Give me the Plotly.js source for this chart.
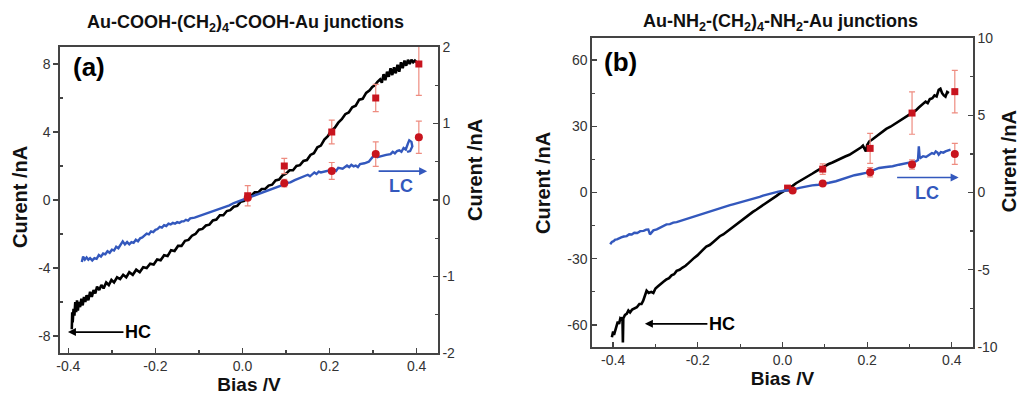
<!DOCTYPE html>
<html><head><meta charset="utf-8">
<script src="https://cdn.plot.ly/plotly-3.0.1.min.js"></script>
<style>html,body{margin:0;padding:0;background:#fff}#chart{width:1021px;height:396px}</style>
</head><body><div id="chart"></div>
<script>
// ---------- Panel (a): Au-COOH-(CH2)4-COOH-Au ----------
const aHcV = [-0.392,-0.391,-0.390,-0.388,-0.386,-0.384,-0.382,-0.380,-0.378,-0.376,-0.373,-0.370,-0.367,-0.364,-0.361,-0.358,-0.354,-0.350,-0.346,-0.342,-0.338,-0.334,-0.329,-0.324,-0.319,-0.313,-0.307,-0.301,-0.295,-0.288,-0.281,-0.274,-0.267,-0.260,-0.252,-0.244,-0.236,-0.228,-0.220,-0.212,-0.204,-0.196,-0.188,-0.180,-0.172,-0.164,-0.156,-0.148,-0.140,-0.132,-0.124,-0.116,-0.108,-0.100,-0.092,-0.084,-0.076,-0.068,-0.060,-0.052,-0.044,-0.036,-0.028,-0.020,-0.012,-0.004,0.004,0.012,0.020,0.028,0.036,0.044,0.052,0.060,0.068,0.076,0.084,0.092,0.100,0.108,0.116,0.124,0.132,0.140,0.148,0.156,0.164,0.172,0.180,0.188,0.196,0.204,0.212,0.220,0.228,0.236,0.244,0.252,0.260,0.268,0.276,0.284,0.292,0.298,0.304,0.310,0.316,0.320,0.324,0.328,0.332,0.336,0.340,0.344,0.348,0.352,0.356,0.360,0.364,0.368,0.372,0.376,0.380,0.384,0.388,0.392,0.396,0.400];
const aHcI = [-7.6,-6.6,-7.2,-6.4,-6.8,-6.0,-6.6,-5.9,-6.5,-6.0,-6.3,-5.8,-6.2,-5.7,-6.0,-5.6,-5.9,-5.4,-5.7,-5.3,-5.5,-5.1,-5.3,-5.0,-5.2,-4.85,-5.0,-4.7,-4.85,-4.55,-4.65,-4.4,-4.55,-4.25,-4.4,-4.1,-4.25,-3.95,-4.0,-3.75,-3.8,-3.5,-3.55,-3.25,-3.3,-2.95,-3.0,-2.7,-2.7,-2.4,-2.35,-2.1,-2.0,-1.75,-1.7,-1.5,-1.45,-1.2,-1.15,-0.9,-0.9,-0.65,-0.6,-0.4,-0.35,-0.1,-0.05,0.2,0.25,0.45,0.45,0.65,0.65,0.85,0.9,1.15,1.2,1.45,1.55,1.75,1.75,2.0,2.05,2.3,2.35,2.65,2.75,3.1,3.2,3.55,3.75,4.1,4.25,4.55,4.75,5.05,5.15,5.45,5.55,5.9,5.95,6.3,6.45,6.65,6.75,6.95,7.1,6.9,7.4,7.05,7.55,7.25,7.75,7.35,7.8,7.45,7.95,7.55,8.1,7.75,8.2,7.9,8.25,8.0,8.25,8.1,8.2,8.1];
const aLcV = [-0.369,-0.366,-0.362,-0.358,-0.354,-0.350,-0.345,-0.340,-0.335,-0.330,-0.325,-0.320,-0.315,-0.310,-0.305,-0.300,-0.295,-0.290,-0.285,-0.280,-0.275,-0.270,-0.265,-0.260,-0.255,-0.250,-0.245,-0.240,-0.235,-0.230,-0.225,-0.220,-0.215,-0.210,-0.205,-0.200,-0.195,-0.190,-0.185,-0.180,-0.175,-0.170,-0.165,-0.160,-0.155,-0.150,-0.145,-0.140,-0.135,-0.130,-0.125,-0.120,-0.110,-0.100,-0.090,-0.080,-0.070,-0.060,-0.050,-0.040,-0.030,-0.020,-0.010,0.000,0.010,0.020,0.030,0.040,0.050,0.060,0.070,0.080,0.090,0.100,0.110,0.120,0.130,0.140,0.150,0.155,0.160,0.165,0.170,0.175,0.180,0.190,0.200,0.210,0.215,0.220,0.230,0.240,0.245,0.250,0.255,0.260,0.265,0.270,0.280,0.290,0.300,0.305,0.310,0.320,0.330,0.340,0.345,0.350,0.355,0.360,0.365,0.370,0.375,0.380,0.383,0.388,0.390,0.385,0.378];
const aLcI = [-0.81,-0.74,-0.78,-0.75,-0.78,-0.76,-0.79,-0.76,-0.77,-0.72,-0.74,-0.70,-0.71,-0.67,-0.69,-0.65,-0.66,-0.61,-0.63,-0.58,-0.54,-0.58,-0.55,-0.58,-0.55,-0.56,-0.52,-0.54,-0.50,-0.49,-0.46,-0.44,-0.45,-0.41,-0.42,-0.39,-0.38,-0.35,-0.36,-0.33,-0.34,-0.31,-0.32,-0.30,-0.31,-0.29,-0.30,-0.28,-0.28,-0.26,-0.27,-0.24,-0.23,-0.21,-0.20,-0.18,-0.16,-0.14,-0.11,-0.09,-0.07,-0.04,-0.02,0.00,0.02,0.04,0.06,0.09,0.11,0.13,0.15,0.17,0.19,0.22,0.23,0.26,0.28,0.30,0.33,0.31,0.34,0.36,0.34,0.37,0.36,0.37,0.38,0.40,0.38,0.42,0.41,0.45,0.43,0.46,0.44,0.45,0.43,0.47,0.48,0.50,0.57,0.60,0.56,0.58,0.59,0.60,0.63,0.61,0.64,0.65,0.63,0.68,0.66,0.74,0.78,0.76,0.70,0.64,0.63];
const aSqV = [0.012,0.096,0.205,0.306,0.405];
const aSqI = [0.25,2.0,4.0,6.0,8.0];
const aSqErr = [0.6,0.45,0.7,0.8,1.85];
const aCiV = [0.012,0.096,0.205,0.306,0.405];
const aCiI = [0.03,0.22,0.38,0.60,0.82];
const aCiErr = [0.0,0.05,0.11,0.16,0.21];

// ---------- Panel (b): Au-NH2-(CH2)4-NH2-Au ----------
const bHcV = [-0.403,-0.400,-0.398,-0.395,-0.392,-0.389,-0.386,-0.383,-0.380,-0.378,-0.377,-0.376,-0.372,-0.368,-0.364,-0.360,-0.355,-0.350,-0.344,-0.338,-0.333,-0.329,-0.325,-0.321,-0.316,-0.310,-0.305,-0.300,-0.294,-0.289,-0.282,-0.275,-0.268,-0.262,-0.256,-0.250,-0.243,-0.236,-0.229,-0.222,-0.215,-0.208,-0.201,-0.195,-0.188,-0.180,-0.172,-0.164,-0.156,-0.148,-0.140,-0.132,-0.124,-0.117,-0.108,-0.100,-0.092,-0.085,-0.078,-0.070,-0.062,-0.054,-0.046,-0.038,-0.030,-0.022,-0.014,-0.007,0.000,0.008,0.016,0.024,0.032,0.040,0.050,0.060,0.070,0.079,0.088,0.098,0.108,0.118,0.128,0.138,0.148,0.158,0.168,0.178,0.186,0.190,0.194,0.197,0.200,0.205,0.212,0.220,0.228,0.236,0.245,0.255,0.265,0.275,0.285,0.295,0.307,0.315,0.322,0.330,0.338,0.343,0.348,0.354,0.359,0.364,0.369,0.373,0.377,0.381,0.385,0.389,0.393];
const bHcI = [-65.6,-63.0,-64.5,-62.0,-60.5,-58.5,-59.5,-57.0,-57.5,-56.5,-68.0,-57.0,-55.5,-55.0,-53.5,-54.3,-53.0,-52.5,-52.0,-50.5,-50.5,-49.0,-46.5,-44.5,-45.5,-45.0,-45.5,-43.5,-42.5,-41.5,-40.5,-39.5,-38.8,-37.5,-37.0,-35.5,-35.0,-34.0,-33.2,-32.0,-30.5,-29.5,-28.5,-27.2,-26.0,-24.5,-23.8,-22.5,-21.2,-19.8,-19.0,-17.8,-16.8,-15.9,-14.5,-13.2,-12.0,-11.0,-9.9,-8.8,-7.8,-6.8,-5.6,-4.7,-3.6,-2.6,-1.5,-0.5,0.3,1.0,2.1,3.0,4.2,5.1,6.2,7.0,8.5,9.6,10.6,11.8,12.8,13.6,14.6,15.5,16.3,17.1,18.3,19.2,20.5,21.2,20.0,18.6,21.5,23.1,24.0,25.2,26.5,27.6,28.8,29.8,31.0,32.2,33.4,34.5,35.9,37.2,38.5,39.8,41.2,40.5,42.3,42.7,44.0,43.5,46.5,47.0,45.0,44.0,43.4,45.5,45.0];
const bLcV = [-0.407,-0.403,-0.399,-0.395,-0.391,-0.386,-0.381,-0.375,-0.368,-0.362,-0.356,-0.350,-0.343,-0.336,-0.328,-0.322,-0.317,-0.313,-0.309,-0.305,-0.297,-0.290,-0.282,-0.274,-0.266,-0.258,-0.250,-0.242,-0.234,-0.226,-0.218,-0.211,-0.203,-0.195,-0.188,-0.180,-0.172,-0.164,-0.156,-0.148,-0.140,-0.132,-0.124,-0.117,-0.108,-0.100,-0.092,-0.085,-0.077,-0.069,-0.062,-0.054,-0.046,-0.038,-0.030,-0.023,-0.010,0.000,0.012,0.024,0.040,0.056,0.070,0.085,0.095,0.110,0.126,0.142,0.158,0.170,0.185,0.197,0.212,0.228,0.245,0.260,0.275,0.290,0.299,0.308,0.315,0.320,0.322,0.324,0.326,0.332,0.339,0.346,0.353,0.358,0.362,0.366,0.369,0.374,0.380,0.385,0.391,0.397];
const bLcI = [-3.35,-3.20,-3.15,-3.05,-3.03,-2.95,-2.90,-2.85,-2.82,-2.70,-2.72,-2.60,-2.62,-2.50,-2.48,-2.40,-2.39,-2.71,-2.60,-2.45,-2.39,-2.30,-2.20,-2.06,-2.05,-1.95,-1.92,-1.85,-1.78,-1.68,-1.62,-1.53,-1.48,-1.42,-1.38,-1.31,-1.22,-1.15,-1.08,-0.99,-0.94,-0.88,-0.82,-0.77,-0.70,-0.65,-0.60,-0.56,-0.48,-0.40,-0.34,-0.28,-0.20,-0.14,-0.08,-0.02,0.06,0.10,0.13,0.18,0.30,0.41,0.46,0.50,0.54,0.63,0.73,0.88,1.05,1.12,1.20,1.27,1.42,1.59,1.65,1.70,1.80,1.86,1.92,1.98,2.02,2.10,2.99,2.30,2.24,2.35,2.30,2.45,2.55,2.50,2.66,2.58,2.45,2.62,2.58,2.66,2.70,2.77];
const bSqV = [0.012,0.095,0.207,0.306,0.407];
const bSqI = [2.0,10.6,20.0,36.0,45.7];
const bSqErr = [0.8,2.4,6.8,9.6,9.6];
const bCiV = [0.024,0.095,0.207,0.306,0.407];
const bCiI = [0.13,0.58,1.31,1.81,2.5];
const bCiErr = [0.0,0.05,0.3,0.3,0.68];

// ---------- tick labels ----------
const xTickVals = [-0.4,-0.2,0,0.2,0.4];
const xTickText = ['-0.4','-0.2','0.0','0.2','0.4'];
const aLeftVals = [-8,-4,0,4,8];
const aLeftText = ['-8','-4','0','4','8'];
const aRightVals = [-2,-1,0,1,2];
const aRightText = ['-2','-1','0','1','2'];
const bLeftVals = [-60,-30,0,30,60];
const bLeftText = ['-60','-30','0','30','60'];
const bRightVals = [-10,-5,0,5,10];
const bRightText = ['-10','-5','0','5','10'];

const FONT = 'Liberation Sans, Arial, sans-serif';
const BLACK = '#000000', BLUE = '#3358bd', RED = '#c8141e', ERR = 'rgb(238,140,128)';
const AX = '#444';

function lineTrace(x, y, color, w, xa, ya) {
  return {x, y, type:'scatter', mode:'lines', xaxis:xa, yaxis:ya, line:{color, width:w}, hoverinfo:'skip', showlegend:false};
}
function ptTrace(x, y, err, sym, size, xa, ya) {
  return {x, y, type:'scatter', mode:'markers', xaxis:xa, yaxis:ya,
    marker:{symbol:sym, size, color:RED},
    error_y:{type:'data', array:err, visible:true, color:ERR, thickness:1.2, width:3},
    showlegend:false};
}

const data = [
  lineTrace(aHcV, aHcI, BLACK, 2.6, 'x', 'y'),
  lineTrace(aLcV, aLcI, BLUE, 2.4, 'x', 'y2'),
  ptTrace(aSqV, aSqI, aSqErr, 'square', 7, 'x', 'y'),
  ptTrace(aCiV, aCiI, aCiErr, 'circle', 8, 'x', 'y2'),
  lineTrace(bHcV, bHcI, BLACK, 2.6, 'x2', 'y3'),
  lineTrace(bLcV, bLcI, BLUE, 2.4, 'x2', 'y4'),
  ptTrace(bSqV, bSqI, bSqErr, 'square', 7, 'x2', 'y3'),
  ptTrace(bCiV, bCiI, bCiErr, 'circle', 8, 'x2', 'y4')
];

const tickFont = {family:FONT, size:14, color:'#333'};
function xAxis(domain, range, anchor) {
  return {domain, range, anchor, tickmode:'array', tickvals:xTickVals, ticktext:xTickText,
    ticks:'inside', ticklen:5, tickwidth:1.3, tickcolor:AX,
    minor:{tickvals:[-0.3,-0.1,0.1,0.3], ticks:'inside', ticklen:3, tickwidth:1.3, tickcolor:AX},
    showline:true, linecolor:AX, linewidth:1.6, mirror:true, showgrid:false, zeroline:false,
    tickfont:tickFont,
    title:{text:'<b>Bias /V</b>', font:{family:FONT, size:19, color:'#111'}, standoff:4}};
}
function yAxis(domain, range, anchor, vals, text, minorVals, side, overlaying, tickdir) {
  const o = {domain, range, anchor, side, tickmode:'array', tickvals:vals, ticktext:text,
    ticks:tickdir, ticklen:5, tickwidth:1.3, tickcolor:AX,
    minor:{tickvals:minorVals, ticks:'inside', ticklen:3, tickwidth:1.3, tickcolor:AX},
    showline:true, linecolor:AX, linewidth:1.6, showgrid:false, zeroline:false, tickfont:tickFont};
  if (overlaying) { o.overlaying = overlaying; delete o.domain; }
  return o;
}

const aDomX = [0.0588, 0.4290], aDomY = [0.1086, 0.8813];
const bDomX = [0.5798, 0.9530], bDomY = [0.1237, 0.9040];

function ytitle(x, y) {
  return {xref:'paper', yref:'paper', x, y, text:'<b>Curent /nA</b>', showarrow:false, textangle:-90,
    xanchor:'center', yanchor:'middle', font:{family:FONT, size:20, color:'#111'}};
}

const layout = {
  width:1021, height:396, margin:{l:0, r:0, t:0, b:0},
  paper_bgcolor:'#fff', plot_bgcolor:'#fff', showlegend:false,
  xaxis: xAxis(aDomX, [-0.419, 0.449], 'y'),
  yaxis: yAxis(aDomY, [-9, 9], 'x', aLeftVals, aLeftText, [-6,-2,2,6], 'left', null, 'outside'),
  yaxis2: yAxis(aDomY, [-2, 2], 'x', aRightVals, aRightText, [-1.5,-0.5,0.5,1.5], 'right', 'y', 'inside'),
  xaxis2: xAxis(bDomX, [-0.45, 0.45], 'y3'),
  yaxis3: yAxis(bDomY, [-70, 70], 'x2', bLeftVals, bLeftText, [-45,-15,15,45], 'left', null, 'inside'),
  yaxis4: yAxis(bDomY, [-10, 10], 'x2', bRightVals, bRightText, [-7.5,-2.5,2.5,7.5], 'right', 'y3', 'inside'),
  annotations: [
    {xref:'paper', yref:'paper', x:0.240, y:0.940, text:'<b>Au-COOH-(CH<sub>2</sub>)<sub>4</sub>-COOH-Au junctions</b>', showarrow:false, xanchor:'center', yanchor:'middle', font:{family:FONT, size:18, color:'#111'}},
    {xref:'paper', yref:'paper', x:0.764, y:0.942, text:'<b>Au-NH<sub>2</sub>-(CH<sub>2</sub>)<sub>4</sub>-NH<sub>2</sub>-Au junctions</b>', showarrow:false, xanchor:'center', yanchor:'middle', font:{family:FONT, size:18, color:'#111'}},
    {xref:'paper', yref:'paper', x:0.0867, y:0.8308, text:'<b>(a)</b>', showarrow:false, xanchor:'center', yanchor:'middle', font:{family:FONT, size:26, color:'#000'}},
    {xref:'paper', yref:'paper', x:0.6082, y:0.8434, text:'<b>(b)</b>', showarrow:false, xanchor:'center', yanchor:'middle', font:{family:FONT, size:26, color:'#000'}},
    ytitle(0.0196, 0.5025), ytitle(0.4652, 0.5707), ytitle(0.5318, 0.5379), ytitle(0.9885, 0.5934),
    // HC arrows
    {xref:'x', yref:'y', x:-0.4008, y:-7.77, text:'<b>HC</b>', showarrow:true, ax:70, ay:0, arrowhead:2, arrowsize:1, arrowwidth:1.6, arrowcolor:'#000', font:{family:FONT, size:18, color:'#000'}},
    {xref:'x2', yref:'y3', x:-0.325, y:-59.5, text:'<b>HC</b>', showarrow:true, ax:77, ay:0, arrowhead:2, arrowsize:1, arrowwidth:1.6, arrowcolor:'#000', font:{family:FONT, size:18, color:'#000'}},
    // LC arrows
    {xref:'x', yref:'y2', x:0.424, y:0.377, text:'', showarrow:true, ax:-50, ay:0, arrowhead:2, arrowsize:1, arrowwidth:1.6, arrowcolor:BLUE},
    {xref:'x', yref:'y2', x:0.363, y:0.18, text:'<b>LC</b>', showarrow:false, xanchor:'center', yanchor:'middle', font:{family:FONT, size:18, color:BLUE}},
    {xref:'x2', yref:'y4', x:0.416, y:0.97, text:'', showarrow:true, ax:-63, ay:0, arrowhead:2, arrowsize:1, arrowwidth:1.6, arrowcolor:BLUE},
    {xref:'x2', yref:'y4', x:0.341, y:-0.06, text:'<b>LC</b>', showarrow:false, xanchor:'center', yanchor:'middle', font:{family:FONT, size:18, color:BLUE}}
  ]
};

Plotly.newPlot('chart', data, layout, {displayModeBar:false, staticPlot:true});
</script></body></html>
